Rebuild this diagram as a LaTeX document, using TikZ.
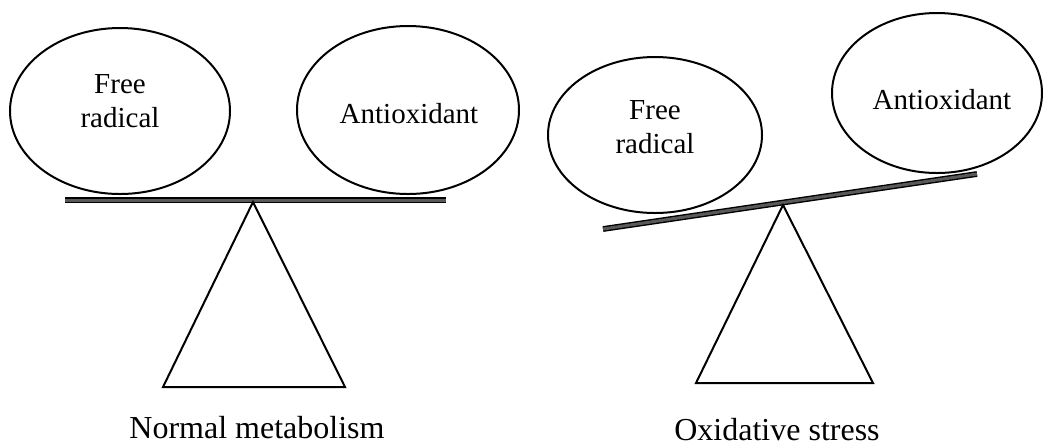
\documentclass[tikz,border=0pt]{standalone}
\usepackage{fontspec}
\setmainfont{Liberation Serif}
\usetikzlibrary{shapes.geometric}
\tikzset{
  pan/.style={draw, ellipse, line width=1pt, inner sep=0pt},
  word/.style={font=\fontsize{14.5}{17}\selectfont, align=center},
  caption/.style={font=\fontsize{16}{19}\selectfont},
  beam/.style={draw=black, double=gray!70!black, double distance=1.5pt, line width=0.7pt},
  stand/.style={line width=1pt, line join=miter}
}
\begin{document}
\begin{tikzpicture}[x=0.5pt, y=-0.5pt]
\useasboundingbox (0,0) rectangle (1049,447);
% normal metabolism
\node[pan, minimum width=110pt, minimum height=83pt] (fr1) at (120,111) {};
\node[pan, minimum width=111pt, minimum height=84pt] (ao1) at (408,110) {};
\node[word] (tfr1) at (120,101) {Free\\radical};
\node[word] (tao1) at (409,114) {Antioxidant};
\coordinate (b1l) at (65,200);
\coordinate (b1r) at (446,200);
\draw[beam] (b1l) -- (b1r);
\coordinate (top1) at (253,202);
\coordinate (bl1) at (163,387);
\coordinate (br1) at (345,387);
\draw[stand] (top1) -- (bl1) -- (br1) -- cycle;
\node[caption] (cap1) at (257,428) {Normal metabolism};
% oxidative stress
\node[pan, minimum width=107pt, minimum height=78pt] (fr2) at (655,135) {};
\node[pan, minimum width=105pt, minimum height=80pt] (ao2) at (937,93) {};
\node[word] (tfr2) at (655,127) {Free\\radical};
\node[word] (tao2) at (942,100) {Antioxidant};
\coordinate (b2l) at (603,229);
\coordinate (b2r) at (977,174);
\draw[beam] (b2l) -- (b2r);
\coordinate (top2) at (783,205);
\coordinate (bl2) at (696,383);
\coordinate (br2) at (873,383);
\draw[stand] (top2) -- (bl2) -- (br2) -- cycle;
\node[caption] (cap2) at (777,430) {Oxidative stress};
\end{tikzpicture}
\end{document}
